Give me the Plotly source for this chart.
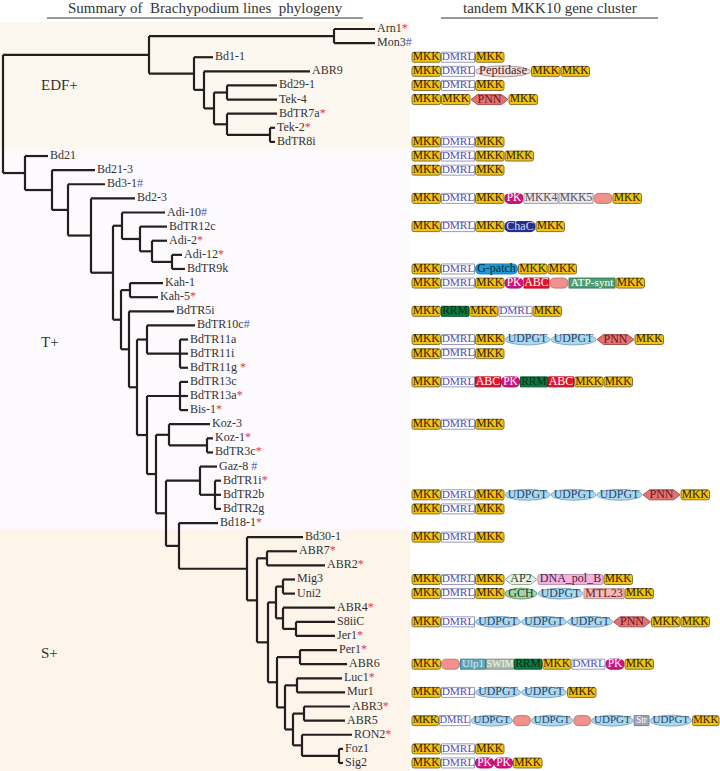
import plotly.graph_objects as go

# ------------------------------------------------------------------ data
TITLE_TREE = "Summary of  Brachypodium lines  phylogeny"
TITLE_GENES = "tandem MKK10 gene cluster"
GROUP_NAMES = ["EDF+", "T+", "S+"]
GROUP_LABEL_ROWS = [4.0, 22.2, 44.2]          # row where the group label sits
GROUP_ROW_SPANS = [(-0.5, 8.5), (8.5, 35.5), (35.5, 53.5)]

# Newick sub-trees, branch lengths
S_CLADE = ("(Bd30-1:56,((ABR7:30,ABR2:58):10,"
           "(((Mig3:12,Uni2:12):7,(ABR4:52,(S8iiC:39,Jer1:39):13):7):8,"
           "((Per1:37,ABR6:47):23,((Luc1:45,Mur1:48):12,"
           "((ABR3:46,ABR5:41):11,(RON2:50,(Foz1:4,Sig2:4):37):9):8):8):9):11):10)")
U_CLADE = ("((Koz-3:41,(Koz-1:6,BdTR3c:6):38):13,"
           "((Gaz-8:17,(BdTR1i:6,BdTR2b:6,BdTR2g:6):15):34,"
           f"(Bd18-1:39,{S_CLADE}:68):13):10)")
T_CLADE = f"((BdTR13c:8,BdTR13a:8,Bis-1:8):33,{U_CLADE}:9)"
R_CLADE = f"((BdTR10c:48,(BdTR11a:8,BdTR11i:8,BdTR11g:8):33):10,{T_CLADE}:10)"
N_CLADE = f"((Kah-1:33,Kah-5:28):9,(BdTR5i:45,{R_CLADE}:8):8)"
M_CLADE = "(Adi-10:43,(BdTR12c:27,(Adi-2:15,(Adi-12:10,BdTR9k:13):20):12):18)"
TS_CLADE = f"(Bd21:23,(Bd21-3:43,(Bd3-1:37,(Bd2-3:44,({M_CLADE}:9,{N_CLADE}:8):22):23):16):27)"
EDF_CLADE = ("((Arn1:41,Mon3:41):185,(Bd1-1:19,(ABR9:106,((Bd29-1:50,Tek-4:50):13,"
             "(BdTR7a:50,(Tek-2:5,BdTR8i:5):43):13):10):10):45)")
NEWICK = f"({EDF_CLADE}:146,{TS_CLADE}:22);"

# marks after line names:  * red,  # blue
LEAF_MARKS = {
    "Arn1": "*", "Mon3": "#", "BdTR7a": "*", "Tek-2": "*", "Bd3-1": "#",
    "Adi-10": "#", "Adi-2": "*", "Adi-12": "*", "Kah-5": "*", "BdTR10c": "#",
    "BdTR11g": " *", "BdTR13a": "*", "Bis-1": "*", "Koz-1": "*", "BdTR3c": "*",
    "Gaz-8": " #", "BdTR1i": "*", "Bd18-1": "*", "ABR7": "*", "ABR2": "*",
    "ABR4": "*", "Jer1": "*", "Per1": "*", "Luc1": "*", "ABR3": "*", "RON2": "*",
}

# tandem MKK10 gene clusters ("" = unnamed gene)
CLUSTERS = {
    "Bd1-1":   ["MKK", "DMRL", "MKK"],
    "ABR9":    ["MKK", "DMRL", "Peptidase", "MKK", "MKK"],
    "Bd29-1":  ["MKK", "DMRL", "MKK"],
    "Tek-4":   ["MKK", "MKK", "PNN", "MKK"],
    "BdTR8i":  ["MKK", "DMRL", "MKK"],
    "Bd21":    ["MKK", "DMRL", "MKK", "MKK"],
    "Bd21-3":  ["MKK", "DMRL", "MKK"],
    "Bd2-3":   ["MKK", "DMRL", "MKK", "PK", "MKK4", "MKK5", "", "MKK"],
    "BdTR12c": ["MKK", "DMRL", "MKK", "ChaC", "MKK"],
    "BdTR9k":  ["MKK", "DMRL", "G-patch", "MKK", "MKK"],
    "Kah-1":   ["MKK", "DMRL", "MKK", "PK", "ABC", "", "ATP-synt", "MKK"],
    "BdTR5i":  ["MKK", "RRM", "MKK", "DMRL", "MKK"],
    "BdTR11a": ["MKK", "DMRL", "MKK", "UDPGT", "UDPGT", "PNN", "MKK"],
    "BdTR11i": ["MKK", "DMRL", "MKK"],
    "BdTR13c": ["MKK", "DMRL", "ABC", "PK", "RRM", "ABC", "MKK", "MKK"],
    "Koz-3":   ["MKK", "DMRL", "MKK"],
    "BdTR2b":  ["MKK", "DMRL", "MKK", "UDPGT", "UDPGT", "UDPGT", "PNN", "MKK"],
    "BdTR2g":  ["MKK", "DMRL", "MKK"],
    "Bd30-1":  ["MKK", "DMRL", "MKK"],
    "Mig3":    ["MKK", "DMRL", "MKK", "AP2", "DNA_pol_B", "MKK"],
    "Uni2":    ["MKK", "DMRL", "MKK", "GCH", "UDPGT", "MTL23", "MKK"],
    "S8iiC":   ["MKK", "DMRL", "UDPGT", "UDPGT", "UDPGT", "PNN", "MKK", "MKK"],
    "ABR6":    ["MKK", "", "Ulp1", "SWIM", "RRM", "MKK", "DMRL", "PK", "MKK"],
    "Mur1":    ["MKK", "DMRL", "UDPGT", "UDPGT", "MKK"],
    "ABR5":    ["MKK", "DMRL", "UDPGT", "", "UDPGT", "", "UDPGT", "Str", "UDPGT", "MKK"],
    "Foz1":    ["MKK", "DMRL", "MKK"],
    "Sig2":    ["MKK", "DMRL", "PK", "PK", "MKK"],
}

# ------------------------------------------------------------------ styles
FONT = "Liberation Serif, Times New Roman, serif"
W_PX, H_PX = 720, 771
ROW_PITCH = 14.115      # px per row
FIRST_ROW_PX = 29.0
TREE_ROOT_X = 3
LABEL_GAP = 2.0
CLUSTER_X0 = 412
CLUSTER_XMAX = 719
GENE_GAP = 1.0
GENE_H_PX = 10.0
BAND_RIGHT = 410
BAND_COLORS = ["#FDF8EF", "#FCFAFC", "#FDF4EA"]
TREE_COLOR = "#231F20"
TEXT_COLOR = "#333333"
MARK_COLORS = {"*": "#E8344C", "#": "#5563C8"}

GENE_STYLE = {
    "MKK":       dict(kind="rrect",   w=28.5, fill="#F4C20D", line="#85723A", font="#2B2100", size=11.5),
    "DMRL":      dict(kind="rect",    w=33,   fill="#FFFFFF", line="#9A9AB8", font="#4E4EB2", size=11.3),
    "Peptidase": dict(kind="ellipse", w=55,   fill="#F8DADA", line="#A89494", font="#3A2A2A", size=12.5),
    "PNN":       dict(kind="hex",     w=37,   fill="#E27272", line="#A65050", font="#6E1414", size=12),
    "PK":        dict(kind="pill",    w=18,   fill="#D3117F", line="#A50F62", font="#FFFFFF", size=11.5),
    "MKK4":      dict(kind="rect",    w=34,   fill="#ECE7EC", line="#A49EA4", font="#555055", size=11.5),
    "MKK5":      dict(kind="rect",    w=34,   fill="#ECE7EC", line="#A49EA4", font="#555055", size=11.5),
    "":          dict(kind="pill",    w=18,   fill="#F0918B", line="#C47570", font="#000000", size=11),
    "ChaC":      dict(kind="pill",    w=30,   fill="#24318B", line="#1A2470", font="#D6DCF2", size=12),
    "G-patch":   dict(kind="pill",    w=42,   fill="#1C9BD8", line="#1581B4", font="#0C2233", size=12),
    "ABC":       dict(kind="rect",    w=25,   fill="#E3142C", line="#B51022", font="#FFFFFF", size=12),
    "ATP-synt":  dict(kind="rect",    w=46,   fill="#4F9E71", line="#3B7B56", font="#FFFFFF", size=11.3),
    "RRM":       dict(kind="rect",    w=27,   fill="#0C7A3F", line="#0A5A2F", font="#0B2A1B", size=11.5),
    "UDPGT":     dict(kind="ellipse", w=45,   fill="#A9D9F2", line="#80A9C2", font="#2C4262", size=11.8),
    "AP2":       dict(kind="hex",     w=32,   fill="#E4F2E4", line="#92AA92", font="#304030", size=12),
    "DNA_pol_B": dict(kind="rrect",   w=65,   fill="#F2B4DC", line="#C292B2", font="#4A1A40", size=12),
    "GCH":       dict(kind="ellipse", w=32,   fill="#A4D5A7", line="#719B71", font="#203A20", size=12),
    "MTL23":     dict(kind="rect",    w=40,   fill="#F4B9B9", line="#C29292", font="#6A2020", size=12),
    "Ulp1":      dict(kind="rect",    w=25,   fill="#5CA8B9", line="#418191", font="#D3EAF0", size=11),
    "SWIM":      dict(kind="rect",    w=27,   fill="#AABDAA", line="#829282", font="#F2F2F2", size=10),
    "Str":       dict(kind="rect",    w=16,   fill="#A0A1B5", line="#818192", font="#FFFFFF", size=10),
}


def px_to_row(py):
    return (py - FIRST_ROW_PX) / ROW_PITCH


# ------------------------------------------------------------------ parse tree
def parse_newick(s):
    s = s.strip().rstrip(";")
    pos = 0

    def node():
        nonlocal pos
        n = {"children": [], "name": "", "bl": 0.0}
        if s[pos] == "(":
            pos += 1
            while True:
                n["children"].append(node())
                if s[pos] == ",":
                    pos += 1
                    continue
                if s[pos] == ")":
                    pos += 1
                    break
        start = pos
        while pos < len(s) and s[pos] not in ",():;":
            pos += 1
        n["name"] = s[start:pos]
        if pos < len(s) and s[pos] == ":":
            pos += 1
            start = pos
            while pos < len(s) and s[pos] not in ",();":
                pos += 1
            n["bl"] = float(s[start:pos])
        return n

    return node()


tree = parse_newick(NEWICK)
leaves = []


def layout(n, x):
    n["x"] = x + n["bl"]
    if not n["children"]:
        n["y"] = len(leaves)
        leaves.append(n)
    else:
        for c in n["children"]:
            layout(c, n["x"])
        n["y"] = (n["children"][0]["y"] + n["children"][-1]["y"]) / 2.0


tree["bl"] = 0.0
layout(tree, TREE_ROOT_X)

lx, ly = [], []


def collect(n):
    if not n["children"]:
        return
    ys = [c["y"] for c in n["children"]]
    lx.extend([n["x"], n["x"], None])
    ly.extend([min(ys), max(ys), None])
    for c in n["children"]:
        lx.extend([n["x"], c["x"], None])
        ly.extend([c["y"], c["y"], None])
        collect(c)


collect(tree)

fig = go.Figure()

# background bands for groups
shapes = []
for (r0, r1), col in zip(GROUP_ROW_SPANS, BAND_COLORS):
    shapes.append(dict(type="rect", xref="x", yref="y", x0=0, x1=BAND_RIGHT, y0=r0, y1=r1,
                       fillcolor=col, line=dict(width=0), layer="below"))

fig.add_trace(go.Scatter(x=lx, y=ly, mode="lines",
                         line=dict(color=TREE_COLOR, width=2.2),
                         hoverinfo="skip", showlegend=False))

# leaf labels
lab_x, lab_y, lab_t = [], [], []
for lf in leaves:
    mark = LEAF_MARKS.get(lf["name"], "")
    txt = lf["name"]
    if mark:
        sym = mark.strip()
        pre = mark[: len(mark) - len(sym)]
        txt += pre + f'<span style="color:{MARK_COLORS[sym]}">{sym}</span>'
    lab_x.append(lf["x"] + LABEL_GAP)
    lab_y.append(lf["y"])
    lab_t.append(txt)
fig.add_trace(go.Scatter(x=lab_x, y=lab_y, text=lab_t, mode="text",
                         textposition="middle right",
                         textfont=dict(family=FONT, size=12, color=TEXT_COLOR),
                         hoverinfo="skip", showlegend=False))

# gene clusters
hr = GENE_H_PX / 2.0 / ROW_PITCH  # half-height in row units
row_of = {lf["name"]: lf["y"] for lf in leaves}
gx, gy, gt, gc, gs = [], [], [], [], []


def rrect_path(x0, x1, yc, rx):
    ry = rx / ROW_PITCH
    y0, y1 = yc - hr, yc + hr
    return (f"M {x0+rx},{y0} L {x1-rx},{y0} Q {x1},{y0} {x1},{y0+ry} L {x1},{y1-ry} "
            f"Q {x1},{y1} {x1-rx},{y1} L {x0+rx},{y1} Q {x0},{y1} {x0},{y1-ry} "
            f"L {x0},{y0+ry} Q {x0},{y0} {x0+rx},{y0} Z")


def hex_path(x0, x1, yc, p):
    y0, y1 = yc - hr, yc + hr
    return (f"M {x0},{yc} L {x0+p},{y0} L {x1-p},{y0} L {x1},{yc} "
            f"L {x1-p},{y1} L {x0+p},{y1} Z")


for name, genes in CLUSTERS.items():
    yc = row_of[name]
    total = sum(GENE_STYLE[g]["w"] for g in genes) + GENE_GAP * (len(genes) - 1)
    k = min(1.0, (CLUSTER_XMAX - CLUSTER_X0) / total)
    cur = CLUSTER_X0
    for g in genes:
        st = GENE_STYLE[g]
        w = st["w"] * k
        x0, x1 = cur, cur + w
        base = dict(xref="x", yref="y", fillcolor=st["fill"],
                    line=dict(color=st["line"], width=1), layer="below")
        if st["kind"] == "rect":
            shapes.append(dict(type="rect", x0=x0, x1=x1, y0=yc - hr, y1=yc + hr, **base))
        elif st["kind"] == "ellipse":
            shapes.append(dict(type="circle", x0=x0, x1=x1,
                               y0=yc - hr * 1.08, y1=yc + hr * 1.08, **base))
        elif st["kind"] == "hex":
            shapes.append(dict(type="path", path=hex_path(x0, x1, yc, 6.5), **base))
        elif st["kind"] == "pill":
            shapes.append(dict(type="path",
                               path=rrect_path(x0, x1, yc, min(GENE_H_PX / 2.0, w / 2.0)), **base))
        else:
            shapes.append(dict(type="path", path=rrect_path(x0, x1, yc, 2.0), **base))
        if g:
            gx.append((x0 + x1) / 2.0)
            gy.append(yc)
            gt.append(g)
            gc.append(st["font"])
            gs.append(st["size"] * (0.93 if k < 1 else 1.0))
        cur = x1 + GENE_GAP * k

fig.add_trace(go.Scatter(x=gx, y=gy, text=gt, mode="text", textposition="middle center",
                         textfont=dict(family=FONT, size=gs, color=gc),
                         hoverinfo="skip", showlegend=False))

# titles with underlines
annotations = [
    dict(x=205, y=px_to_row(8), text=TITLE_TREE, showarrow=False, xref="x", yref="y",
         font=dict(family=FONT, size=15, color=TEXT_COLOR)),
    dict(x=550, y=px_to_row(8), text=TITLE_GENES, showarrow=False, xref="x", yref="y",
         font=dict(family=FONT, size=15, color=TEXT_COLOR)),
]
shapes.append(dict(type="line", xref="x", yref="y", x0=47, x1=363,
                   y0=px_to_row(18), y1=px_to_row(18), line=dict(color=TEXT_COLOR, width=1)))
shapes.append(dict(type="line", xref="x", yref="y", x0=441, x1=658,
                   y0=px_to_row(18), y1=px_to_row(18), line=dict(color=TEXT_COLOR, width=1)))

for gname, grow in zip(GROUP_NAMES, GROUP_LABEL_ROWS):
    annotations.append(dict(x=39, y=grow, text=gname, showarrow=False, xref="x", yref="y",
                            xanchor="left", font=dict(family=FONT, size=15, color=TEXT_COLOR)))

fig.update_layout(
    width=W_PX, height=H_PX, autosize=False,
    margin=dict(l=0, r=0, t=0, b=0),
    plot_bgcolor="white", paper_bgcolor="white",
    showlegend=False,
    shapes=shapes, annotations=annotations,
    xaxis=dict(range=[0, W_PX], visible=False, fixedrange=True),
    yaxis=dict(range=[px_to_row(H_PX), px_to_row(0)], visible=False, fixedrange=True),
)

fig.write_html("out.html", config={"displayModeBar": False},
               post_script="document.body.style.margin='0px';document.body.style.overflow='hidden';")
